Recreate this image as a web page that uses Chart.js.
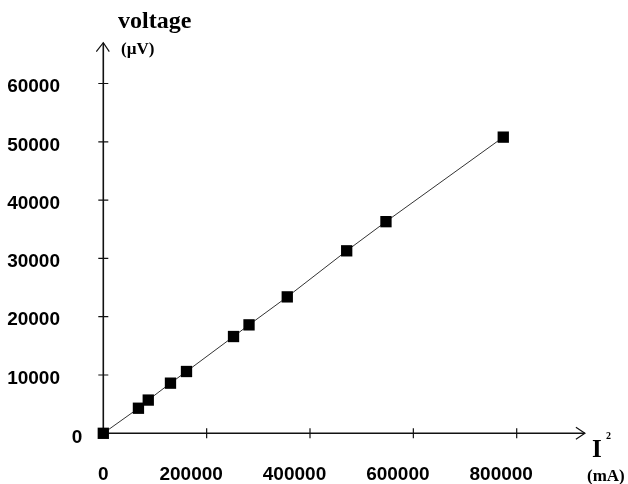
<!DOCTYPE html>
<html>
<head>
<meta charset="utf-8">
<script src="https://cdn.jsdelivr.net/npm/chart.js@4"></script>
<style>
  html, body { margin: 0; padding: 0; background: #fff; }
  #wrap { width: 628px; height: 484px; }
</style>
</head>
<body>
<div id="wrap"><canvas id="chart" width="628" height="484"></canvas></div>
<script>
// current squared (mA^2) vs measured voltage (µV)
const currentSq = [0, 68000, 87000, 130000, 161000, 252000, 282000, 356000, 471000, 547000, 774000];
const voltage   = [0, 4300, 5700, 8600, 10600, 16600, 18600, 23400, 31300, 36300, 50800];

const xTicks = [200000, 400000, 600000, 800000];
const yTicks = [10000, 20000, 30000, 40000, 50000, 60000];

const xMax = 800000, yMax = 60000;
const xArrowEnd = 932000, yArrowEnd = 67000; // axis lines run a bit past the last tick

const numFont = 'bold 19px "Liberation Sans", Arial, sans-serif';
const serif = '"Liberation Serif", "Times New Roman", serif';

// axes with arrows, crossing tick marks and all the labels
const axesPlugin = {
  id: 'arrowAxes',
  beforeDatasetsDraw(chart) {
    const ctx = chart.ctx;
    const xs = chart.scales.x, ys = chart.scales.y;
    const x0 = xs.getPixelForValue(0), y0 = ys.getPixelForValue(0);
    const xEnd = xs.getPixelForValue(xArrowEnd), yEnd = ys.getPixelForValue(yArrowEnd);

    ctx.save();
    ctx.strokeStyle = '#111';
    ctx.lineWidth = 1.6;
    ctx.beginPath();
    ctx.moveTo(x0, y0); ctx.lineTo(xEnd, y0);
    ctx.moveTo(x0, y0); ctx.lineTo(x0, yEnd);
    ctx.stroke();

    ctx.lineWidth = 1.2;
    ctx.beginPath();
    // y arrow (open chevron)
    ctx.moveTo(x0 - 7, yEnd + 9); ctx.lineTo(x0, yEnd); ctx.lineTo(x0 + 6, yEnd + 9);
    // x arrow
    ctx.moveTo(xEnd - 9, y0 - 6); ctx.lineTo(xEnd, y0); ctx.lineTo(xEnd - 9, y0 + 6);
    ctx.stroke();

    ctx.lineWidth = 1.2;
    ctx.beginPath();
    xTicks.forEach(v => {
      const px = xs.getPixelForValue(v);
      ctx.moveTo(px, y0 - 5); ctx.lineTo(px, y0 + 5);
    });
    yTicks.forEach(v => {
      const py = ys.getPixelForValue(v);
      ctx.moveTo(x0 - 5, py); ctx.lineTo(x0 + 5, py);
    });
    ctx.stroke();
    ctx.restore();
  },
  afterDraw(chart) {
    const ctx = chart.ctx;
    const xs = chart.scales.x, ys = chart.scales.y;
    const x0 = xs.getPixelForValue(0), y0 = ys.getPixelForValue(0);

    ctx.save();
    ctx.fillStyle = '#000';
    ctx.font = numFont;
    ctx.textBaseline = 'middle';

    // y tick labels
    ctx.textAlign = 'right';
    yTicks.forEach(v => ctx.fillText(String(v), 60, ys.getPixelForValue(v) + 3.5));
    ctx.fillText('0', x0 - 21, y0 + 4);

    // x tick labels (sit a little left of their ticks)
    ctx.textAlign = 'center';
    ctx.fillText('0', x0, 475);
    xTicks.forEach(v => ctx.fillText(String(v), xs.getPixelForValue(v) - 15.5, 475));

    // axis titles
    ctx.textAlign = 'left';
    ctx.textBaseline = 'alphabetic';
    ctx.font = 'bold 24px ' + serif;
    ctx.fillText('voltage', 118, 28);
    ctx.font = 'bold 17px ' + serif;
    ctx.fillText('(µV)', 121, 54);

    ctx.font = 'bold 25px ' + serif;
    ctx.fillText('I', 592, 457);
    ctx.font = 'bold 10px ' + serif;
    ctx.fillText('2', 606, 439);
    ctx.font = 'bold 17px ' + serif;
    ctx.fillText('(mA)', 587, 481);
    ctx.restore();
  }
};

const points = currentSq.map((x, i) => ({ x: x, y: voltage[i] }));

new Chart(document.getElementById('chart').getContext('2d'), {
  type: 'scatter',
  data: {
    datasets: [{
      data: points,
      showLine: true,
      borderColor: '#333',
      borderWidth: 1,
      pointStyle: 'rect',
      pointRadius: 8,
      pointBackgroundColor: '#000',
      pointBorderWidth: 0,
      clip: false
    }]
  },
  options: {
    responsive: false,
    animation: false,
    layout: { padding: { left: 103.3, right: 111.3, top: 83.5, bottom: 50.7 } },
    scales: {
      x: { type: 'linear', display: false, min: 0, max: xMax },
      y: { type: 'linear', display: false, min: 0, max: yMax }
    },
    plugins: {
      legend: { display: false },
      tooltip: { enabled: false }
    }
  },
  plugins: [axesPlugin]
});
</script>
</body>
</html>
